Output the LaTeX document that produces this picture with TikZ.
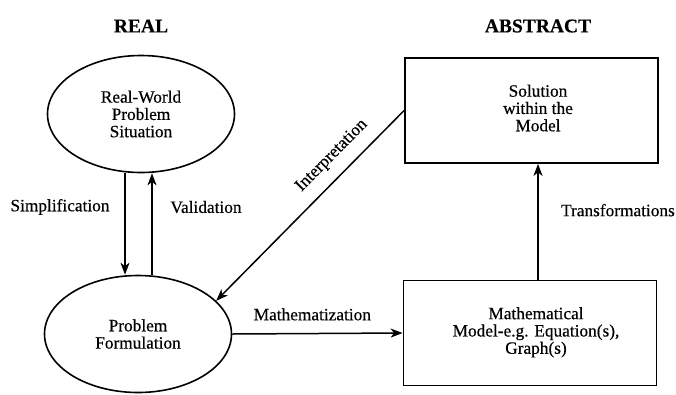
\documentclass[tikz,border=0pt]{standalone}
\usepackage{fontspec}
\setmainfont{Liberation Serif}[FakeBold=0.4]
\usetikzlibrary{shapes.geometric,arrows.meta}
\begin{document}
\begin{tikzpicture}[x=1pt,y=-1pt,
  every node/.style={font=\fontsize{17.3}{17.3}\selectfont},
  oval/.style={ellipse, draw, line width=1.6pt, minimum width=187pt, minimum height=117pt, inner sep=0pt, align=center},
  box/.style={rectangle, draw, line width=1.8pt, minimum width=253pt, minimum height=105pt, inner sep=0pt},
  head/.style={font=\fontsize{19.5}{21}\selectfont\bfseries},
  conn/.style={line width=1.5pt, -{Stealth[length=12pt,width=9pt,inset=3.5pt]}}
]
\useasboundingbox (0,0) rectangle (676,394);
\node[head] (real) at (141,26) {REAL};
\node[head] (abs) at (538,26) {ABSTRACT};
\node[oval] (rw) at (141,114) {Real-World\\Problem\\Situation};
\node[oval] (pf) at (138,334) {Problem\\Formulation};
\node[box] (sol) at (531.5,110.5) {\hspace*{13pt}\begin{tabular}{@{}c@{}}Solution\\within the\\Model\end{tabular}};
\node[box] (mm) at (530,333) {\hspace*{12pt}\begin{tabular}{@{}c@{}}Mathematical\\Model-e.g. Equation(s),\\Graph(s)\end{tabular}};
\draw[conn] ([xshift=-16pt]rw.south) -- ([xshift=-13pt]pf.north);
\draw[conn] ([xshift=14pt]pf.north) -- ([xshift=11pt]rw.south);
\node (simp) at (60,207) {Simplification};
\node (valid) at (206,207) {Validation};
\draw[conn] (sol.west) -- node[pos=0.31, sloped, above=8pt] (interp) {Interpretation} (pf.23);
\draw[conn] (pf.east) -- node[pos=0.47, above=9pt] (math) {Mathematization} (mm.west);
\draw[conn] ([xshift=8pt]mm.north) -- node[pos=0.6, right=19pt] (trans) {Transformations} ([xshift=6.5pt]sol.south);
\end{tikzpicture}
\end{document}
